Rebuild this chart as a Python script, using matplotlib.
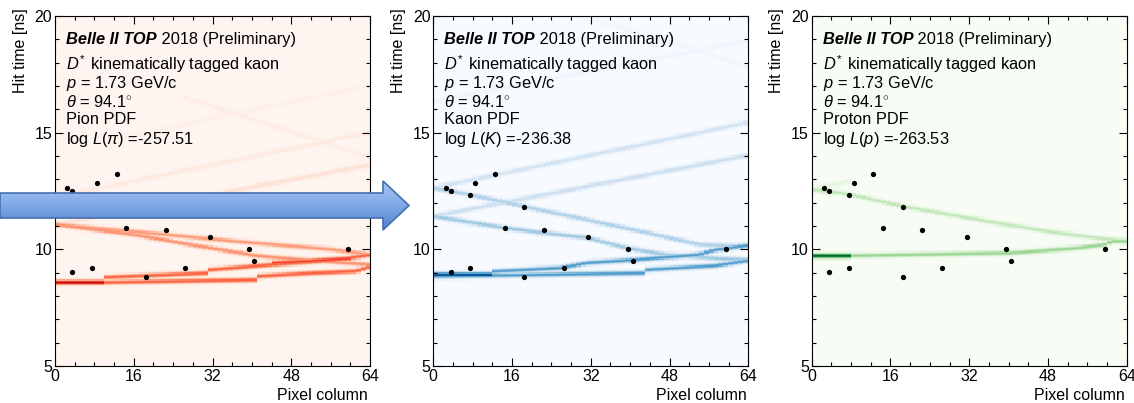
import numpy as np
import matplotlib
matplotlib.use('Agg')
import matplotlib.pyplot as plt
from matplotlib.patches import Polygon
from matplotlib.colors import LinearSegmentedColormap
from matplotlib.ticker import MultipleLocator

plt.rcParams['font.family'] = 'Liberation Sans'
plt.rcParams['mathtext.fontset'] = 'custom'
plt.rcParams['mathtext.rm'] = 'Liberation Sans'
plt.rcParams['mathtext.it'] = 'Liberation Sans:italic'
plt.rcParams['mathtext.bf'] = 'Liberation Sans:bold'

# measured photon hits of the tagged kaon (pixel column, hit time in ns)
hit_col = [2.5, 3.5, 7.5, 8.5, 12.5, 18.5, 14.5, 22.5, 31.5, 39.5, 40.5, 59.5, 3.5, 7.5, 18.5, 26.5]
hit_time = [12.64, 12.51, 12.33, 12.83, 13.23, 11.83, 10.91, 10.83, 10.51, 10.03, 9.51, 10.03, 9.01, 9.21, 8.81, 9.21]

hypotheses = ['Pion', 'Kaon', 'Proton']
cmaps = ['Reds', 'Blues', 'Greens']
logl_labels = [r'$\log\,L(\pi)$', r'$\log\,L(K)$', r'$\log\,L(p)$']
logl_values = [-257.51, -236.38, -263.53]

# PDF ridges: (column nodes, time nodes, intensity)
pion_bands = [
    ([0, 10], [8.57, 8.57], 0.8),
    ([0, 10, 10.5, 31, 31.5, 44, 57.5, 64], [8.57, 8.60, 8.79, 8.97, 9.11, 9.33, 9.54, 9.76], 0.52),
    ([0, 10, 40.5, 41, 52, 61, 64], [8.57, 8.57, 8.68, 8.83, 8.97, 9.05, 9.26], 0.52),
    ([44, 60], [9.4, 9.6], 0.6),
    ([0, 16, 29.5, 41, 50, 64], [11.05, 10.61, 10.11, 9.71, 9.54, 9.33], 0.38),
    ([0, 22.7, 36.2, 56.5, 64], [11.05, 10.61, 10.33, 9.97, 9.76], 0.35),
    ([0, 64], [11.05, 13.6], 0.12),
    ([0, 64], [12.2, 15.0], 0.07),
    ([26, 64], [16.5, 13.9], 0.06),
    ([10, 64], [14.6, 17.0], 0.035),
]
kaon_bands = [
    ([0, 12], [8.9, 8.9], 0.9),
    ([0, 12, 12.5, 26, 31, 41, 50, 54, 57, 64], [8.9, 8.9, 9.04, 9.19, 9.4, 9.54, 9.69, 9.76, 9.95, 10.15], 0.58),
    ([0, 43, 43.5, 57.5, 61, 64], [8.83, 8.97, 9.11, 9.29, 9.4, 9.51], 0.58),
    ([0, 14.6, 22.3, 31.5, 39.3, 47.4, 57.5, 64], [11.4, 10.9, 10.69, 10.47, 10.04, 9.76, 9.6, 9.54], 0.38),
    ([0, 7.4, 18.3, 31, 42, 54, 64], [12.61, 12.33, 11.83, 11.26, 10.76, 10.19, 10.1], 0.33),
    ([0, 64], [11.4, 14.0], 0.22),
    ([0, 64], [12.61, 15.4], 0.19),
    ([0, 64], [16.3, 18.9], 0.05),
    ([30, 64], [20.0, 17.8], 0.04),
]
proton_bands = [
    ([0, 7.5], [9.71, 9.71], 0.9),
    ([0, 7.5, 40.6, 54, 59.6, 61, 64], [9.71, 9.71, 9.83, 10.04, 10.19, 10.33, 10.33], 0.4),
    ([0, 7.4, 18.3, 40.6, 50.8, 59.6, 64], [12.54, 12.35, 11.83, 11.0, 10.66, 10.43, 10.33], 0.27),
    ([0, 8.1], [12.6, 12.9], 0.12),
]
all_bands = [pion_bands, kaon_bands, proton_bands]


def pdf_image(bands, t_edges, sigma=0.075):
    cols = np.arange(64) + 0.5
    tc = 0.5 * (t_edges[1:] + t_edges[:-1])
    img = np.zeros((len(tc), 64))
    for xs, ts, w in bands:
        inside = (cols >= xs[0]) & (cols <= xs[-1])
        t0 = np.interp(cols, xs, ts)
        prof = w * np.exp(-0.5 * ((tc[:, None] - t0[None, :]) / sigma) ** 2)
        img = np.maximum(img, prof * inside[None, :])
    return img


fig = plt.figure(figsize=(11.34, 4.03), dpi=100)
lefts = [55 / 1134, 433.3 / 1134, 811.7 / 1134]
t_edges = np.linspace(5, 20, 301)

for i in range(3):
    ax = fig.add_axes([lefts[i], 0.0918, 315 / 1134, 0.8685])
    img = pdf_image(all_bands[i], t_edges)
    ax.imshow(img, origin='lower', extent=[0, 64, 5, 20], aspect='auto',
              cmap=cmaps[i], vmin=0, vmax=1, interpolation='nearest')
    ax.plot(hit_col, hit_time, 'o', color='k', ms=3.8, mec='none')
    ax.set_xlim(0, 64)
    ax.set_ylim(5, 20)
    ax.xaxis.set_major_locator(MultipleLocator(16))
    ax.xaxis.set_minor_locator(MultipleLocator(4))
    ax.yaxis.set_major_locator(MultipleLocator(5))
    ax.yaxis.set_minor_locator(MultipleLocator(1))
    ax.tick_params(which='both', direction='in', top=True, right=True,
                   labelsize=11.5, width=0.8)
    ax.tick_params(which='major', length=6, pad=2)
    ax.tick_params(which='minor', length=3)
    for s in ax.spines.values():
        s.set_linewidth(0.8)

    ax.set_ylabel('Hit time [ns]', fontsize=11.5, loc='top', va='center')
    ax.yaxis.set_label_coords(-0.111, 1.023)
    ax.set_xlabel('Pixel column', fontsize=11.5, loc='right', va='center')
    ax.xaxis.set_label_coords(0.994, -0.083)

    fs = 11.8
    t1 = ax.text(0.035, 0.934, 'Belle II TOP', transform=ax.transAxes, fontsize=fs,
                 fontweight='bold', fontstyle='italic', va='center', ha='left')
    ax.annotate(' 2018 (Preliminary)', xy=(1, 0.5), xycoords=t1, fontsize=fs,
                va='center', ha='left')
    lines = [r'$D^{\!*}$ kinematically tagged kaon',
             r'$p$ = 1.73 GeV/c',
             r'$\theta$ = 94.1$^{\circ}$',
             hypotheses[i] + ' PDF',
             logl_labels[i] + ' =%.2f' % logl_values[i]]
    ys = [0.863, 0.806, 0.754, 0.703, 0.646]
    for txt, y in zip(lines, ys):
        ax.text(0.035, y, txt, transform=ax.transAxes, fontsize=fs,
                va='center', ha='left')

# block arrow pointing from the pion to the kaon hypothesis
ov = fig.add_axes([0, 0, 1, 1], zorder=10)
ov.set_xlim(0, 1134)
ov.set_ylim(403, 0)
ov.axis('off')
ov.patch.set_alpha(0)
arrow_pts = [(0, 193), (383, 193), (383, 181), (409, 205.5), (383, 230), (383, 218), (0, 218)]
shape = Polygon(arrow_pts, closed=True, facecolor='none', edgecolor='#4270b0', lw=1.2)
ov.add_patch(shape)
grad = LinearSegmentedColormap.from_list('arrow', ['#a9c8f3', '#80a8e6', '#4f7fca'])
g = ov.imshow(np.linspace(0, 1, 64).reshape(-1, 1), cmap=grad, aspect='auto',
              extent=(0, 410, 231, 180), interpolation='bilinear')
g.set_clip_path(shape)

fig.savefig('out.png', dpi=100)
